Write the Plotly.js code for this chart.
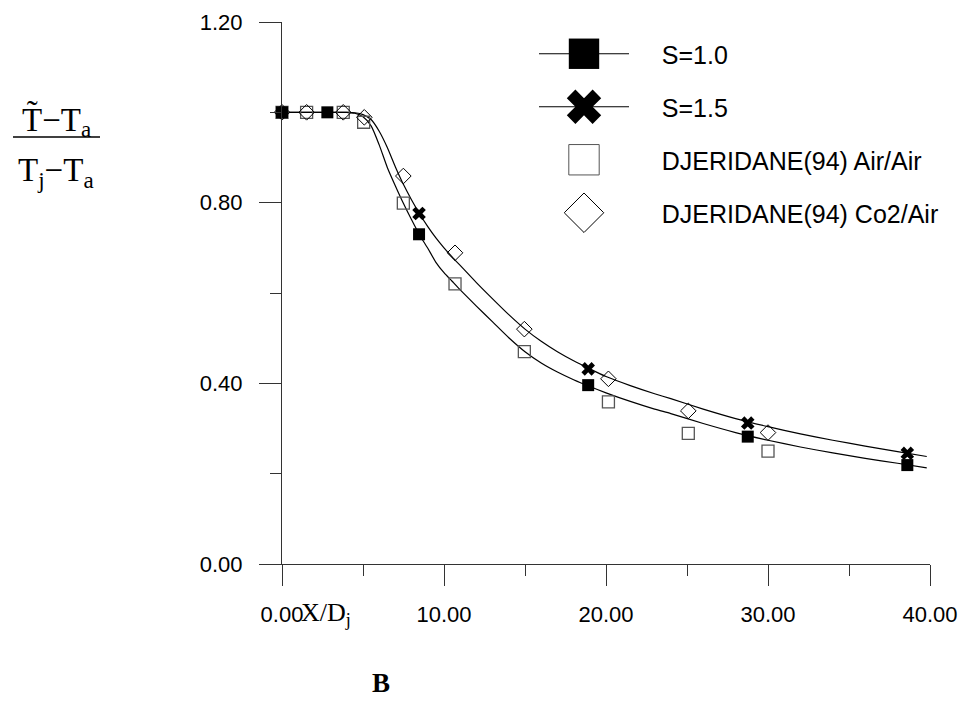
<!DOCTYPE html>
<html><head><meta charset="utf-8">
<script src="https://cdn.plot.ly/plotly-3.0.1.min.js"></script>
<style>html,body{margin:0;padding:0;background:#fff}</style>
</head><body>
<div id="chart" style="width:963px;height:723px"></div>
<script>
// Fitted curves
const curveX = [0,1,2,3,4,4.5,5,5.5,6,6.5,7,7.5,8,8.5,9,9.5,10,10.5,11,12,13,14,15,16,17,18,19,20,21.5,23,24,26,28,30,32,34,36,38,39.8];
const curveS10 = [1,1,1,1,1,0.998,0.990,0.970,0.928,0.878,0.837,0.798,0.762,0.728,0.699,0.668,0.645,0.626,0.607,0.571,0.536,0.501,0.470,0.445,0.425,0.408,0.393,0.379,0.360,0.343,0.333,0.311,0.291,0.274,0.259,0.246,0.234,0.223,0.213];
const curveS15 = [1,1,1,1,1,0.999,0.995,0.984,0.958,0.922,0.879,0.840,0.806,0.775,0.747,0.722,0.700,0.680,0.661,0.623,0.587,0.552,0.520,0.493,0.470,0.450,0.432,0.415,0.395,0.377,0.366,0.343,0.322,0.304,0.288,0.274,0.261,0.249,0.238];

// Markers
const s10X = [0, 2.8, 8.46, 18.9, 28.75, 38.6];
const s10Y = [1.0, 1.0, 0.73, 0.396, 0.282, 0.219];
const s15X = [8.46, 18.9, 28.75, 38.6];
const s15Y = [0.776, 0.432, 0.312, 0.245];
const airX = [0, 1.52, 3.78, 5.04, 7.49, 10.68, 14.96, 20.15, 25.08, 30.0];
const airY = [1.0, 1.0, 1.0, 0.978, 0.799, 0.62, 0.47, 0.359, 0.289, 0.25];
const co2X = [0, 1.52, 3.78, 5.08, 7.49, 10.68, 14.96, 20.15, 25.08, 30.0];
const co2Y = [1.0, 1.0, 1.0, 0.989, 0.859, 0.689, 0.52, 0.41, 0.339, 0.291];

const names = ['S=1.0', 'S=1.5', 'DJERIDANE(94) Air/Air', 'DJERIDANE(94) Co2/Air'];
const pad = '\u00A0\u00A0\u00A0\u00A0';

const lineStyle = {color: '#000', width: 1.2, shape: 'spline', smoothing: 0.6};
const traces = [
  {x: curveX, y: curveS10, mode: 'lines', line: lineStyle, showlegend: false, cliponaxis: false, hoverinfo: 'skip'},
  {x: curveX, y: curveS15, mode: 'lines', line: lineStyle, showlegend: false, cliponaxis: false, hoverinfo: 'skip'},
  {x: airX, y: airY, mode: 'markers', showlegend: false, cliponaxis: false,
   marker: {symbol: 'square-open', size: 12, color: '#555', line: {color: '#555', width: 1.3}}},
  {x: co2X, y: co2Y, mode: 'markers', showlegend: false, cliponaxis: false,
   marker: {symbol: 'diamond-open', size: 12, color: '#000', line: {color: '#000', width: 1}}},
  {x: s10X, y: s10Y, mode: 'markers', showlegend: false, cliponaxis: false,
   marker: {symbol: 'square', size: 12, color: '#000', line: {width: 0}}},
  {x: s15X, y: s15Y, mode: 'markers', showlegend: false, cliponaxis: false,
   marker: {symbol: 'x', size: 12, color: '#000', line: {width: 0}}},
  // legend entries
  {x: [null], y: [null], name: pad + names[0], mode: 'lines+markers', legendgroup: 'a',
   line: {color: '#000', width: 1}, marker: {symbol: 'square', size: 16, color: '#000'}},
  {x: [null], y: [null], name: pad + names[1], mode: 'lines+markers', legendgroup: 'b',
   line: {color: '#000', width: 1}, marker: {symbol: 'x', size: 16, color: '#000'}},
  {x: [null], y: [null], name: pad + names[2], mode: 'markers', legendgroup: 'c',
   marker: {symbol: 'square-open', size: 16, color: '#555', line: {color: '#555', width: 1}}},
  {x: [null], y: [null], name: pad + names[3], mode: 'markers', legendgroup: 'd',
   marker: {symbol: 'diamond-open', size: 16, color: '#000', line: {color: '#000', width: 1}}}
];

const axisFont = {family: 'Liberation Sans, Arial, sans-serif', size: 22, color: '#000'};
const W = 648, H = 542, L = 282, T = 22;
function px(x){ return (x - L) / W; }
function py(y){ return (T + H - y) / H; }

const layout = {
  width: 963, height: 723, autosize: false,
  margin: {l: L, r: 963 - L - W, t: T, b: 723 - T - H, pad: 0},
  paper_bgcolor: '#fff', plot_bgcolor: '#fff',
  showlegend: true,
  legend: {x: px(534), y: py(31), xanchor: 'left', yanchor: 'top', bgcolor: 'rgba(0,0,0,0)',
    font: {family: 'Liberation Sans, Arial, sans-serif', size: 25, color: '#000'},
    itemwidth: 90, tracegroupgap: 17.5, traceorder: 'grouped'},
  xaxis: {range: [0, 40], dtick: 10, tick0: 0, tickformat: '.2f', showgrid: false, zeroline: false,
    showline: true, linecolor: '#333', linewidth: 1, ticks: 'outside', ticklen: 21, tickcolor: '#333', tickwidth: 1,
    tickfont: axisFont, ticklabelstandoff: 10, automargin: false,
    minor: {dtick: 5, tick0: 0, ticks: 'outside', ticklen: 11, tickcolor: '#333', showgrid: false}},
  yaxis: {range: [0, 1.2], dtick: 0.4, tick0: 0, tickformat: '.2f', showgrid: false, zeroline: false,
    showline: true, linecolor: '#333', linewidth: 1, ticks: 'outside', ticklen: 22, tickcolor: '#333', tickwidth: 1,
    tickfont: axisFont, ticklabelstandoff: 12, automargin: false,
    minor: {dtick: 0.2, tick0: 0, ticks: 'outside', ticklen: 11, tickcolor: '#333', showgrid: false}},
  shapes: [
    {type: 'line', xref: 'paper', yref: 'paper', x0: px(13), x1: px(100), y0: py(137), y1: py(137),
     line: {color: '#000', width: 1.5}}
  ],
  annotations: [
    {xref: 'paper', yref: 'paper', x: px(56), y: py(121), xanchor: 'center', yanchor: 'middle', showarrow: false,
     text: 'T\u0303\u2212T<sub>a</sub>', font: {family: 'Liberation Serif, Times New Roman, serif', size: 33, color: '#000'}},
    {xref: 'paper', yref: 'paper', x: px(56), y: py(172), xanchor: 'center', yanchor: 'middle', showarrow: false,
     text: 'T<sub>j</sub>\u2212T<sub>a</sub>', font: {family: 'Liberation Serif, Times New Roman, serif', size: 33, color: '#000'}},
    {xref: 'paper', yref: 'paper', x: px(326), y: py(614), xanchor: 'center', yanchor: 'middle', showarrow: false,
     text: 'X/D<sub>j</sub>', font: {family: 'Liberation Serif, Times New Roman, serif', size: 26, color: '#000'}},
    {xref: 'paper', yref: 'paper', x: px(381), y: py(683), xanchor: 'center', yanchor: 'middle', showarrow: false,
     text: '<b>B</b>', font: {family: 'Liberation Serif, Times New Roman, serif', size: 27, color: '#000'}}
  ]
};

Plotly.newPlot('chart', traces, layout, {staticPlot: true, displayModeBar: false}).then(function(gd){
  gd.querySelectorAll('.legend .scatterpts').forEach(function(p){
    const t = p.getAttribute('transform') || '';
    p.setAttribute('transform', t + ' scale(1.9)');
    p.style.vectorEffect = 'non-scaling-stroke';
  });
});
</script>
</body></html>
